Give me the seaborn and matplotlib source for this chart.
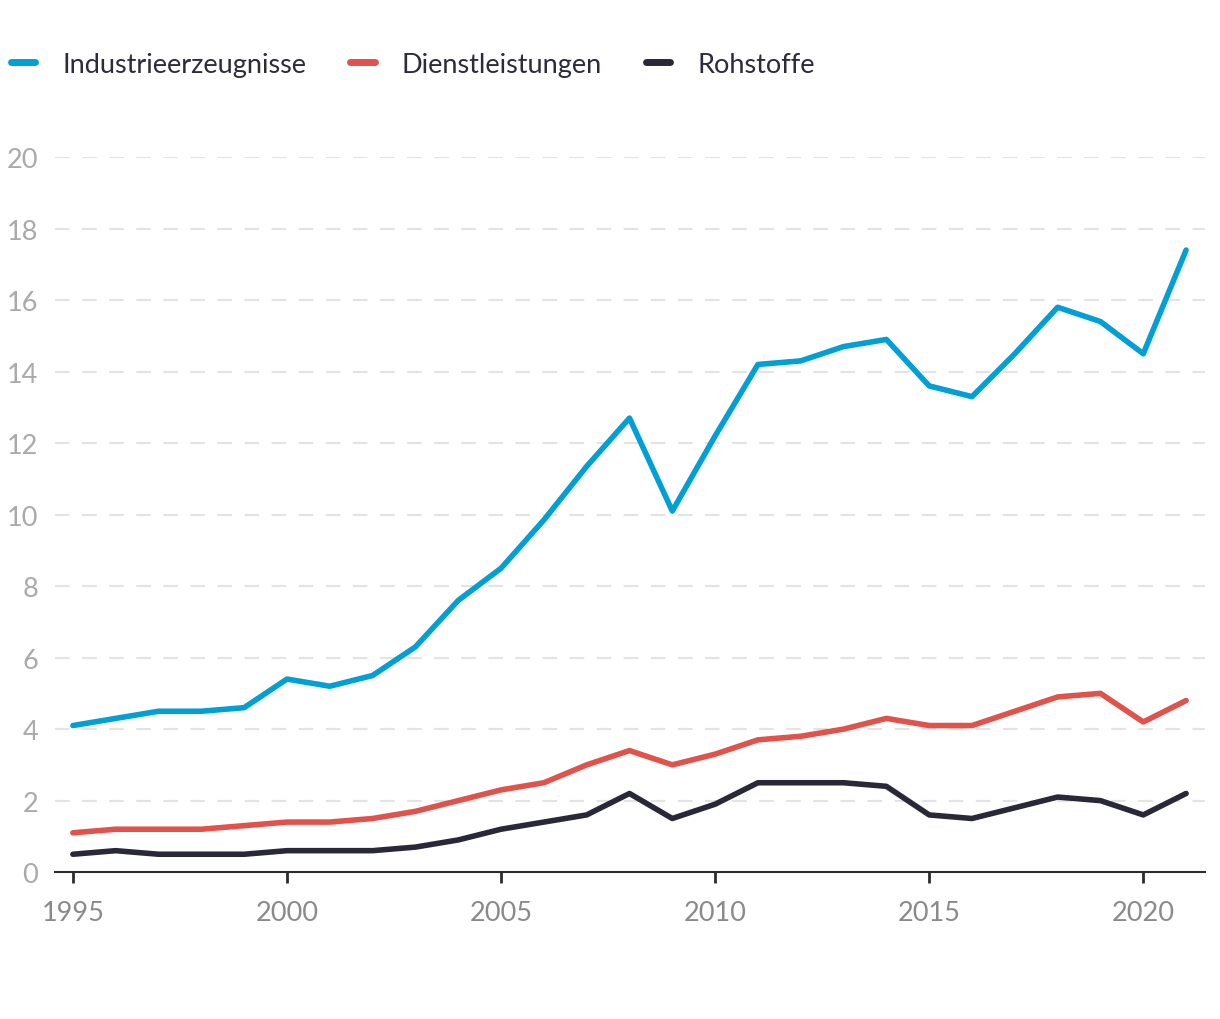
import matplotlib
matplotlib.use('Agg')
import matplotlib.pyplot as plt
import numpy as np
import pandas as pd
import seaborn as sb

years = list(range(1995, 2022))
industrie = [4.1, 4.3, 4.5, 4.5, 4.6, 5.4, 5.2, 5.5, 6.3, 7.6, 8.5, 9.85, 11.35, 12.7,
             10.1, 12.2, 14.2, 14.3, 14.7, 14.9, 13.6, 13.3, 14.5, 15.8, 15.4, 14.5, 17.4]
dienst = [1.1, 1.2, 1.2, 1.2, 1.3, 1.4, 1.4, 1.5, 1.7, 2.0, 2.3, 2.5, 3.0, 3.4,
          3.0, 3.3, 3.7, 3.8, 4.0, 4.3, 4.1, 4.1, 4.5, 4.9, 5.0, 4.2, 4.8]
rohstoffe = [0.5, 0.6, 0.5, 0.5, 0.5, 0.6, 0.6, 0.6, 0.7, 0.9, 1.2, 1.4, 1.6, 2.2,
             1.5, 1.9, 2.5, 2.5, 2.5, 2.4, 1.6, 1.5, 1.8, 2.1, 2.0, 1.6, 2.2]
series_names = ['Industrieerzeugnisse', 'Dienstleistungen', 'Rohstoffe']
colors = ['#009fd6', '#e0524a', '#282838']
yticks = list(range(0, 21, 2))
xticks = [1995, 2000, 2005, 2010, 2015, 2020]

df = pd.DataFrame({
    'Jahr': years * 3,
    'Wert': industrie + dienst + rohstoffe,
    'Gruppe': [series_names[0]] * len(years) + [series_names[1]] * len(years) + [series_names[2]] * len(years),
})

sb.set_style('white')
plt.rcParams['font.family'] = ['Lato', 'DejaVu Sans']

fig = plt.figure(figsize=(12.2, 10.2), dpi=100)
ax = fig.add_axes([0.045, 0.144, 0.943, 0.701])

sb.lineplot(data=df, x='Jahr', y='Wert', hue='Gruppe', palette=colors,
            linewidth=4, ax=ax, legend=False, clip_on=False,
            solid_capstyle='round', solid_joinstyle='round')

ax.set_xlim(1994.58, 2021.45)
ax.set_ylim(0, 20)
ax.set_yticks(yticks)
ax.set_xticks(xticks)
ax.set_xlabel('')
ax.set_ylabel('')

# gestrichelte Hilfslinien
for y in yticks[1:]:
    ax.axhline(y, color='#e3e3e3', linewidth=1.5, dashes=(7, 6), zorder=0)

for s in ['top', 'right', 'left']:
    ax.spines[s].set_visible(False)
ax.spines['bottom'].set_color('#2b2b2b')
ax.spines['bottom'].set_linewidth(1.5)

ax.tick_params(axis='x', bottom=True, length=8, width=2, color='#2b2b2b',
               labelcolor='#8a8a8a', labelsize=19.5, pad=12, direction='out')
ax.tick_params(axis='y', left=False, length=0, labelcolor='#aaaaaa', labelsize=19.5, pad=12)

handles = [plt.Line2D([0], [0], color=c, linewidth=5, solid_capstyle='round') for c in colors]
fig.legend(handles, series_names, loc='upper left', bbox_to_anchor=(-0.011, 0.972),
           ncol=3, frameon=False, fontsize=19.5, handlelength=0.9, handletextpad=1.0,
           columnspacing=1.62, labelcolor='#2b2b3b')

plt.savefig('out.png', dpi=100)
